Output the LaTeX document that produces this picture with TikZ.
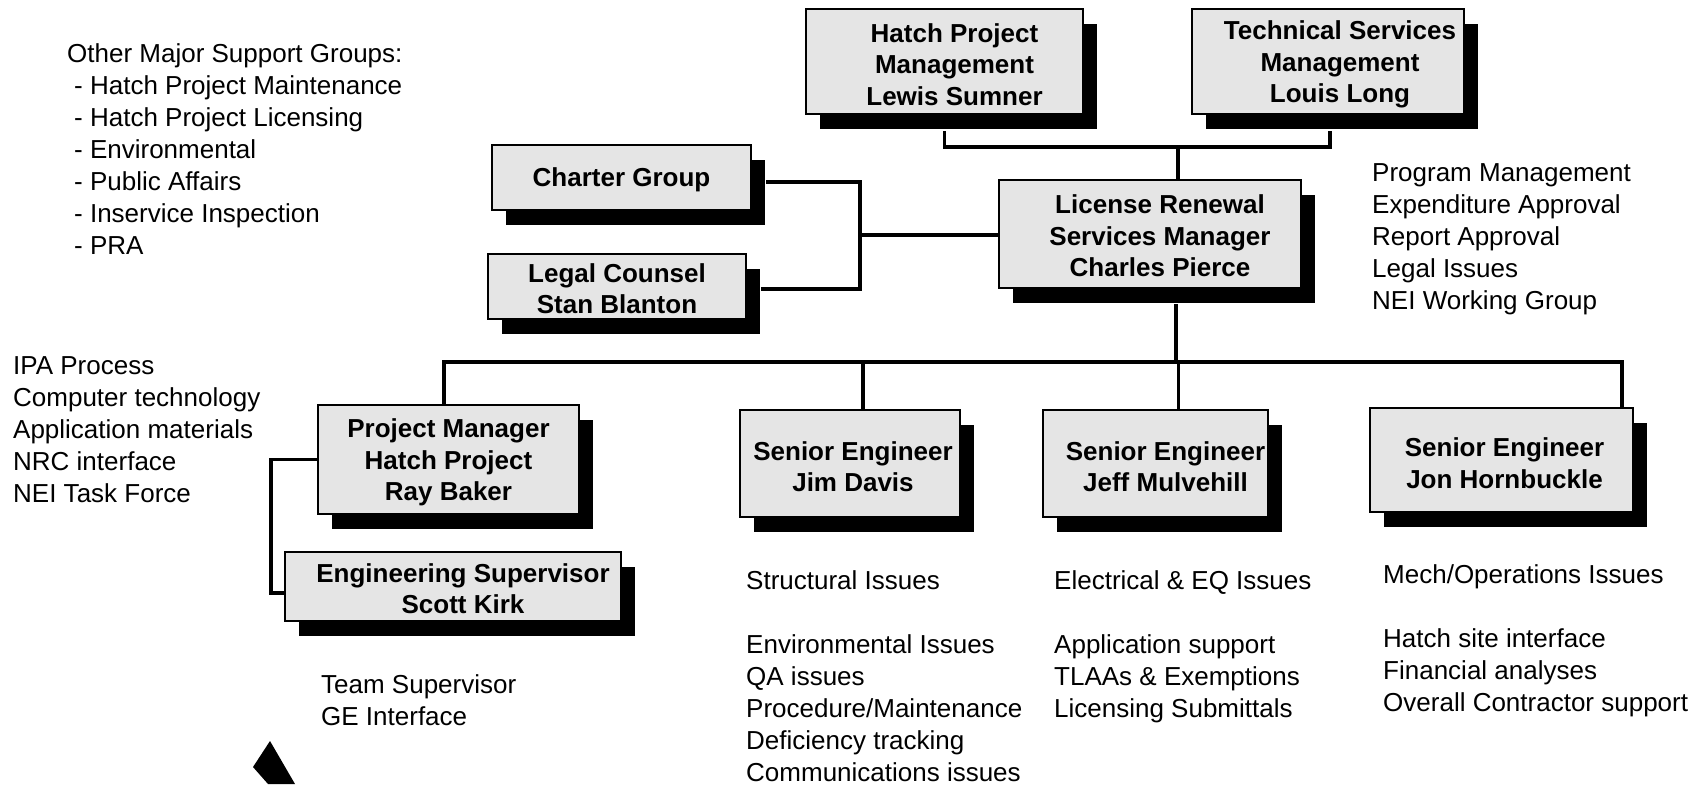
\documentclass[tikz,border=0pt]{standalone}
\usepackage{fontspec}
\setmainfont{Liberation Sans}
\usetikzlibrary{shadows,calc}
\begin{document}
\begin{tikzpicture}[x=1pt,y=-1pt,
 box/.style={draw=black, line width=2.5pt, fill=gray!20, inner sep=0pt, rectangle,
   drop shadow={shadow xshift=14pt, shadow yshift=-15pt, opacity=1, fill=black}},
 btxt/.style={font=\fontsize{26}{31.5}\selectfont\bfseries, align=center, inner sep=0pt},
 txt/.style={font=\fontsize{26}{32}\selectfont, align=left, inner sep=0pt, anchor=north west},
 conn/.style={line width=3.5pt}]
\useasboundingbox (0,0) rectangle (1707,784);
\fill[white] (0,0) rectangle (1707,784);

% boxes
\node[box, minimum width=277pt, minimum height=105pt] (hpm) at (944.5,61.5) {};
\node[btxt] (hpmt) at ($(hpm.center)+(10,3)$) {Hatch Project\\Management\\Lewis Sumner};
\node[box, minimum width=272pt, minimum height=105pt] (tsm) at (1328,61.5) {};
\node[btxt] (tsmt) at ($(tsm.center)+(12,3)$) {Technical Services\\Management\\Louis Long};
\node[box, minimum width=302pt, minimum height=108pt] (lrs) at (1150,234) {};
\node[btxt] (lrst) at ($(lrs.center)+(10,2)$) {License Renewal\\Services Manager\\Charles Pierce};
\node[box, minimum width=259pt, minimum height=65pt] (cg) at (621.5,177.5) {};
\node[btxt] (cgt) at ($(cg.center)+(0,2)$) {Charter Group};
\node[box, minimum width=258pt, minimum height=65pt] (lc) at (617,286.5) {};
\node[btxt] (lct) at ($(lc.center)+(0,2)$) {Legal Counsel\\Stan Blanton};
\node[box, minimum width=261pt, minimum height=109pt] (pm) at (448.5,459.5) {};
\node[btxt] (pmt) at ($(pm.center)+(0,3)$) {Project Manager\\Hatch Project\\Ray Baker};
\node[box, minimum width=336pt, minimum height=69pt] (es) at (453,586.5) {};
\node[btxt] (est) at ($(es.center)+(10,2)$) {Engineering Supervisor\\Scott Kirk};
\node[box, minimum width=220pt, minimum height=107pt] (jd) at (850,463.5) {};
\node[btxt] (jdt) at ($(jd.center)+(3,3)$) {Senior Engineer\\Jim Davis};
\node[box, minimum width=225pt, minimum height=107pt] (jm) at (1155.5,463.5) {};
\node[btxt] (jmt) at ($(jm.center)+(10,3)$) {Senior Engineer\\Jeff Mulvehill};
\node[box, minimum width=263pt, minimum height=104pt] (hb) at (1501.5,460) {};
\node[btxt] (hbt) at ($(hb.center)+(3,3)$) {Senior Engineer\\Jon Hornbuckle};

% connectors
\coordinate (j1) at (1178,147);
\draw[conn] ($(hpm.south)+(0,16)$) |- (j1) -| ($(tsm.south)+(2,16)$);
\draw[conn] (j1) -- (j1 |- lrs.north);

\coordinate (j2) at (860,235);
\draw[conn] ($(cg.east)+(14,4.5)$) -| (j2) |- ($(lc.east)+(14,2.5)$);
\draw[conn] (j2) -- (j2 -| lrs.west);

\coordinate (j3) at (1176,362);
\coordinate (br) at (1622,362);
\draw[conn] ($(lrs.south)+(26,15)$) -- (j3);
\draw[conn] ($(pm.north)+(-4.5,0)$) |- (br) -- (br |- hb.north);
\coordinate (jdx) at ($(jd.north)+(13,0)$);
\draw[conn] (jdx) -- (jdx |- j3);
\coordinate (jmx) at ($(jm.north)+(23,0)$);
\draw[conn] (jmx) -- (jmx |- j3);

\draw[conn] (pm.west) -- ++(-46,0) |- ($(es.west)+(0,6.5)$);

% texts
\node[txt] (osgh) at (67,43) {Other Major Support Groups:};
\node[txt] (osgl) at (74,75) {- Hatch Project Maintenance\\- Hatch Project Licensing\\- Environmental\\- Public Affairs\\- Inservice Inspection\\- PRA};
\node[txt] (lrsr) at (1372,163) {Program Management\\Expenditure Approval\\Report Approval\\Legal Issues\\NEI Working Group};
\node[txt] (pml) at (13,356) {IPA Process\\Computer technology\\Application materials\\NRC interface\\NEI Task Force};
\node[txt] (esb) at (321,674) {Team Supervisor\\GE Interface};
\node[txt] (jdb) at (746,570) {Structural Issues\\[32pt]Environmental Issues\\QA issues\\Procedure/Maintenance\\Deficiency tracking\\Communications issues};
\node[txt] (jmb) at (1054,570) {Electrical \& EQ Issues\\[32pt]Application support\\TLAAs \& Exemptions\\Licensing Submittals};
\node[txt] (hbb) at (1383,564) {Mech/Operations Issues\\[32pt]Hatch site interface\\Financial analyses\\Overall Contractor support};

% corner mark
\fill (270,741) -- (253,767) -- (268,784) -- (295,784) -- cycle;
\end{tikzpicture}
\end{document}
